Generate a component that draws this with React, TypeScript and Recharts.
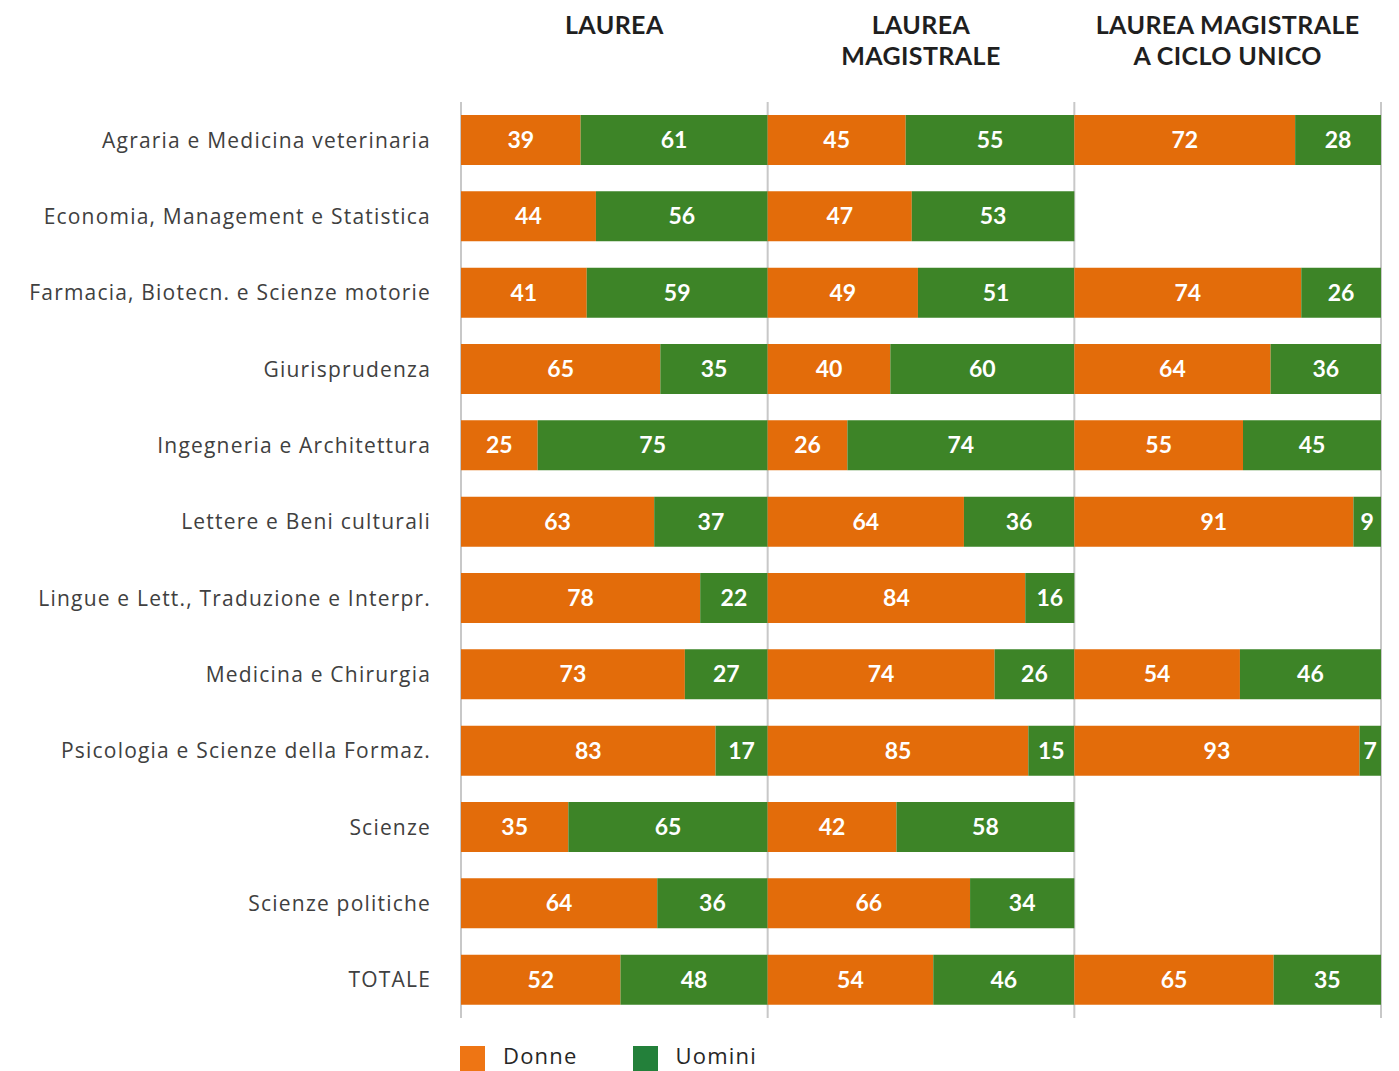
import React from "react";
import { BarChart, Bar, XAxis, YAxis, CartesianGrid, LabelList } from "recharts";

const categories = [
  "Agraria e Medicina veterinaria",
  "Economia, Management e Statistica",
  "Farmacia, Biotecn. e Scienze motorie",
  "Giurisprudenza",
  "Ingegneria e Architettura",
  "Lettere e Beni culturali",
  "Lingue e Lett., Traduzione e Interpr.",
  "Medicina e Chirurgia",
  "Psicologia e Scienze della Formaz.",
  "Scienze",
  "Scienze politiche",
  "TOTALE",
];

const laureaDonne = [39, 44, 41, 65, 25, 63, 78, 73, 83, 35, 64, 52];
const laureaUomini = [61, 56, 59, 35, 75, 37, 22, 27, 17, 65, 36, 48];
const magistraleDonne = [45, 47, 49, 40, 26, 64, 84, 74, 85, 42, 66, 54];
const magistraleUomini = [55, 53, 51, 60, 74, 36, 16, 26, 15, 58, 34, 46];
const cicloUnicoDonne = [72, null, 74, 64, 55, 91, null, 54, 93, null, null, 65];
const cicloUnicoUomini = [28, null, 26, 36, 45, 9, null, 46, 7, null, null, 35];

const panelTitles = [["LAUREA"], ["LAUREA", "MAGISTRALE"], ["LAUREA MAGISTRALE", "A CICLO UNICO"]];
const panelTicks = [0, 100, 200, 300];
const legendItems = [
  { name: "Donne", color: "#EE7514" },
  { name: "Uomini", color: "#23803A" },
];

const ORANGE = "#E36C0A";
const GREEN = "#3D8427";

const data = categories.map((name, i) => ({
  name,
  d1: laureaDonne[i],
  u1: laureaUomini[i],
  d2: magistraleDonne[i],
  u2: magistraleUomini[i],
  d3: cicloUnicoDonne[i],
  u3: cicloUnicoUomini[i],
}));

const W = 1399;
const H = 1071;
const M = { top: 102, right: 18, bottom: 53, left: 0 };
const Y_AXIS_W = 461;
const plotW = W - M.left - M.right - Y_AXIS_W;

const fmt = (v: any) => (v == null || v === 0 ? "" : String(v));

const labelStyle = {
  fill: "#ffffff",
  fontFamily: "Lato, sans-serif",
  fontWeight: 700,
  fontSize: 23,
};

export default function App() {
  const keys = [
    ["d1", ORANGE],
    ["u1", GREEN],
    ["d2", ORANGE],
    ["u2", GREEN],
    ["d3", ORANGE],
    ["u3", GREEN],
  ];
  return (
    <div style={{ position: "absolute", left: 0, top: 0, width: W, height: H, background: "#fff", overflow: "hidden" }}>
      {panelTitles.map((lines, p) => (
        <div
          key={p}
          style={{
            position: "absolute",
            left: M.left + Y_AXIS_W + (plotW / 3) * p,
            width: plotW / 3,
            top: 9,
            textAlign: "center",
            fontFamily: "Lato, sans-serif",
            fontWeight: 700,
            fontSize: 25,
            letterSpacing: 0.4,
            lineHeight: "31px",
            color: "#1f1f1f",
          }}
        >
          {lines.map((l, j) => (
            <div key={j}>{l}</div>
          ))}
        </div>
      ))}
      <BarChart
        width={W}
        height={H}
        data={data}
        layout="vertical"
        margin={M}
        barSize={50}
      >
        <CartesianGrid horizontal={false} stroke="#c8c8c8" strokeWidth={2} />
        <XAxis type="number" domain={[0, 300]} ticks={panelTicks} hide />
        <YAxis
          type="category"
          dataKey="name"
          width={Y_AXIS_W}
          axisLine={false}
          tickLine={false}
          tickSize={0}
          tickMargin={30}
          interval={0}
          tick={{ fill: "#404040", fontFamily: "'Open Sans', sans-serif", fontSize: 21, letterSpacing: 1.2 }}
        />
        {keys.map(([k, c]) => (
          <Bar key={k} dataKey={k} stackId="s" fill={c} isAnimationActive={false}>
            <LabelList dataKey={k} position="center" formatter={fmt} style={labelStyle} />
          </Bar>
        ))}
      </BarChart>
      <div
        style={{
          position: "absolute",
          left: 460,
          top: 1040,
          height: 30,
          display: "flex",
          alignItems: "center",
          fontFamily: "'Open Sans', sans-serif",
          fontSize: 22,
          lineHeight: "26px",
          letterSpacing: 1.2,
          color: "#262626",
        }}
      >
        {legendItems.map((it, i) => (
          <div key={it.name} style={{ display: "flex", alignItems: "center", marginRight: i === 0 ? 55 : 0 }}>
            <span
              style={{
                display: "inline-block",
                width: 25,
                height: 25,
                background: it.color,
                marginRight: 18,
                position: "relative",
                top: 3,
              }}
            />
            <span>{it.name}</span>
          </div>
        ))}
      </div>
    </div>
  );
}
